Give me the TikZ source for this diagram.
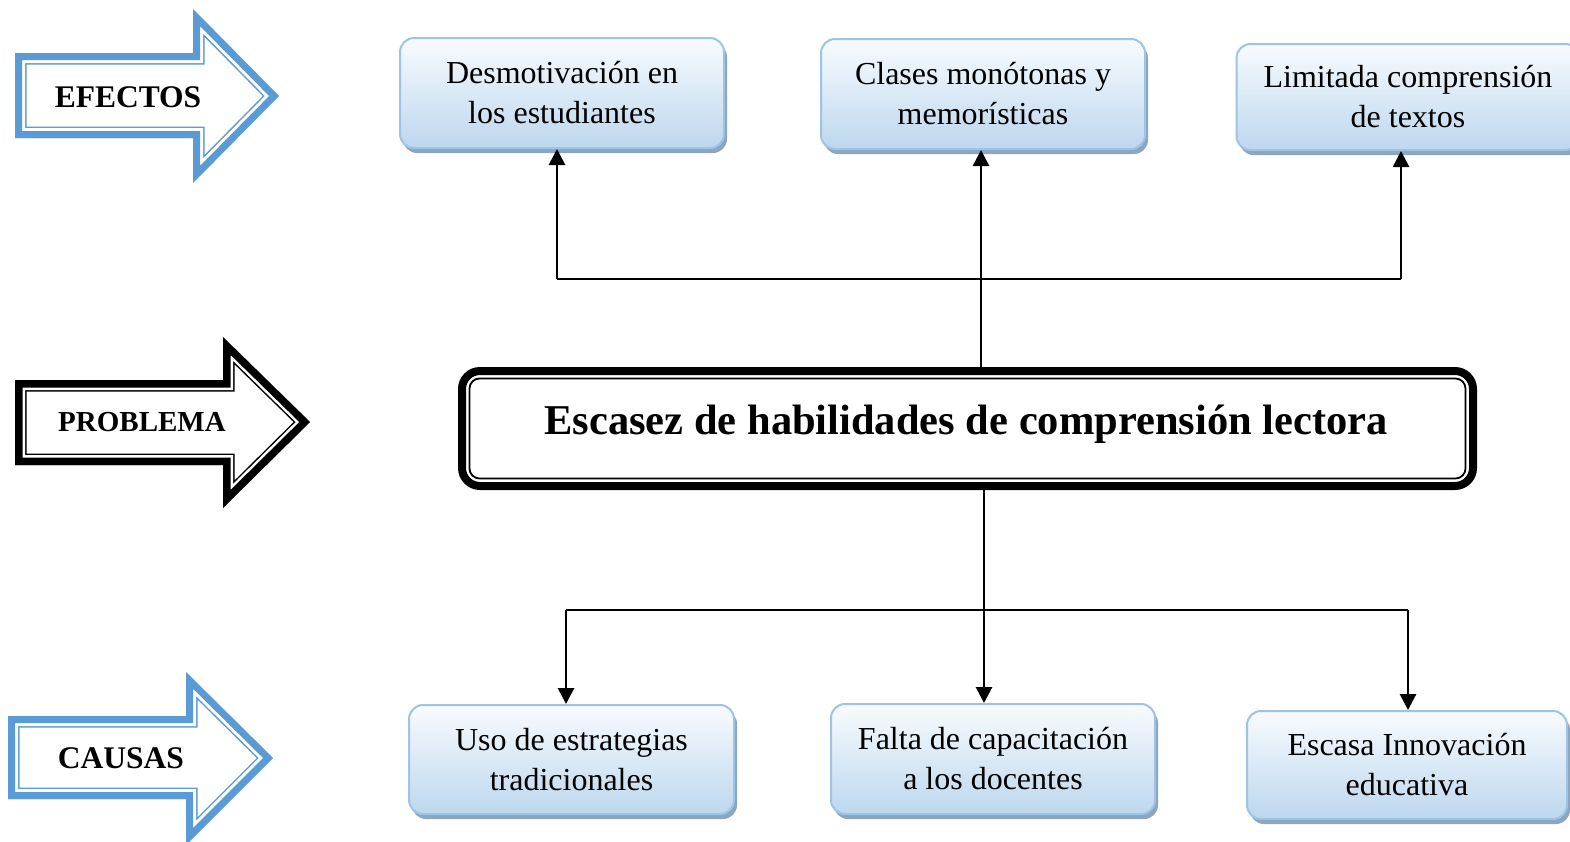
\documentclass[tikz,border=0pt]{standalone}
\usepackage{fontspec}
\setmainfont{Liberation Serif}
\usetikzlibrary{arrows.meta,shadows,calc}
\definecolor{boxborder}{RGB}{157,195,230}
\definecolor{boxbottom}{RGB}{189,215,238}
\definecolor{boxtop}{RGB}{248,251,254}
\definecolor{shadowblue}{RGB}{140,165,192}
\definecolor{arrowblue}{RGB}{91,155,213}
\tikzset{
  cbox/.style={draw=boxborder, line width=2pt, rounded corners=14pt,
    top color=boxtop, bottom color=boxbottom, align=center,
    font=\fontsize{32}{40}\selectfont, inner sep=0pt,
    drop shadow={shadow xshift=3pt, shadow yshift=-5pt, fill=shadowblue, opacity=1}},
  wire/.style={line width=2.8pt, black},
  conn/.style={wire, -{Triangle[length=16pt,width=16pt]}},
  albl/.style={font=\bfseries\fontsize{31.5}{36}\selectfont, inner sep=0pt},
}
\def\arrowA{(15,53) -- (193,53) -- (193,9) -- (279,96) -- (193,183) -- (193,138) -- (15,138) -- cycle}
\def\arrowB{(15,380) -- (223,380) -- (223,337) -- (310,422) -- (223,508) -- (223,465) -- (15,465) -- cycle}
\def\arrowC{(8,716) -- (186,716) -- (186,672) -- (273,758) -- (186,845) -- (186,799) -- (8,799) -- cycle}
\begin{document}
\begin{tikzpicture}[x=1pt,y=-1pt,line join=miter]
\useasboundingbox (0,0) rectangle (1570,841);
\fill[white] (0,0) rectangle (1570,841);

% block arrows
\begin{scope}
\clip \arrowA;
\draw[line width=23pt, arrowblue] \arrowA;
\draw[line width=20pt, white] \arrowA;
\draw[line width=14pt, arrowblue] \arrowA;
\end{scope}
\node[albl] (efectos) at (128,97) {EFECTOS};

\begin{scope}
\clip \arrowB;
\draw[line width=23pt, black] \arrowB;
\draw[line width=20pt, white] \arrowB;
\draw[line width=15pt, black] \arrowB;
\end{scope}
\node[albl, font=\bfseries\fontsize{29}{34}\selectfont] (problema) at (142,422) {PROBLEMA};

\begin{scope}
\clip \arrowC;
\draw[line width=23pt, arrowblue] \arrowC;
\draw[line width=20pt, white] \arrowC;
\draw[line width=14pt, arrowblue] \arrowC;
\end{scope}
\node[albl] (causas) at (121,758) {CAUSAS};

% effect boxes
\node[cbox, minimum width=324pt, minimum height=110pt] (E1) at (562,93) {Desmotivación en\\los estudiantes};
\node[cbox, minimum width=324pt, minimum height=110pt] (E2) at (983,94) {Clases monótonas y\\memorísticas};
\node[cbox, minimum width=343pt, minimum height=106pt] (E3) at (1408,97) {Limitada comprensión\\de textos};

% cause boxes
\node[cbox, minimum width=325pt, minimum height=109pt] (C1) at (571.5,759.5) {Uso de estrategias\\tradicionales};
\node[cbox, minimum width=324pt, minimum height=110pt] (C2) at (993,759) {Falta de capacitación\\a los docentes};
\node[cbox, minimum width=320pt, minimum height=108pt] (C3) at (1407,765) {Escasa Innovación\\educativa};

% main problem box
\node[draw=black, line width=8pt, rounded corners=18pt, minimum width=1011pt, minimum height=115pt, inner sep=0pt] (main) at (967.5,428.5) {};
\draw[line width=1.8pt, rounded corners=10pt] ($(main.north west)+(11.5,11.5)$) rectangle ($(main.south east)+(-11.5,-11.5)$);
\node[font=\bfseries\fontsize{42.5}{48}\selectfont, inner sep=0pt] (title) at (966,424) {Escasez de habilidades de comprensión lectora};

% connectors top
\coordinate (j1) at (557,279);
\coordinate (j2) at (981,279);
\coordinate (j3) at (1401,279);
\draw[conn] (main.north -| j2) -- (E2.south -| j2);
\draw[wire] (j1) -- (j3);
\draw[conn] (j1) -- (E1.south -| j1);
\draw[conn] (j3) -- (E3.south -| j3);

% connectors bottom
\coordinate (k1) at (566,610);
\coordinate (k2) at (984,610);
\coordinate (k3) at (1408,610);
\draw[conn] (main.south -| k2) -- (C2.north -| k2);
\draw[wire] (k1) -- (k3);
\draw[conn] (k1) -- (C1.north -| k1);
\draw[conn] (k3) -- (C3.north -| k3);
\end{tikzpicture}
\end{document}
